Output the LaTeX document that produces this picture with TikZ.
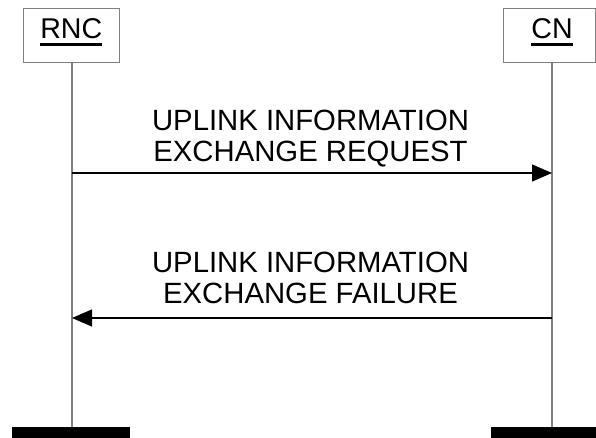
\documentclass[tikz,border=0pt]{standalone}
\usepackage{fontspec}
\setmainfont{Liberation Sans}
\usetikzlibrary{arrows.meta}
\newcommand{\myul}[1]{\setbox0\hbox{#1}\rlap{\rule[-6.7pt]{\wd0}{2.6pt}}\box0}
\tikzset{
  entity/.style={draw=gray, line width=1.3pt, rectangle, inner sep=0pt},
  lifeline/.style={draw=gray, line width=1.2pt},
  bar/.style={fill=black, draw=none},
  msg/.style={draw=black, line width=1.3pt, -{Triangle[length=20pt,width=17pt]}},
  lbl/.style={font=\fontsize{29.3}{31}\selectfont, align=center, anchor=base, inner sep=0pt},
  ename/.style={font=\fontsize{28.6}{31}\selectfont, anchor=base, inner sep=0pt}
}
\begin{document}
\begin{tikzpicture}[x=1pt,y=-1pt]
\useasboundingbox (0,0) rectangle (596,438);
% entity boxes
\node[entity, minimum width=96pt, minimum height=54.5pt] (rncbox) at (71.5,35.5) {};
\node[entity, minimum width=92pt, minimum height=54.5pt] (cnbox) at (549.3,35.5) {};
\node[ename] (rnc) at (71.3,39) {\myul{RNC}};
\node[ename] (cn) at (552,39) {\myul{CN}};
% bars
\path[bar] (12,427) rectangle (130,438);
\path[bar] (491,427) rectangle (596,438);
% lifeline coordinates
\coordinate (rtop) at (72,62.8);
\coordinate (rbot) at (72,427);
\coordinate (ctop) at (552,62.8);
\coordinate (cbot) at (552,427);
\draw[lifeline] (rtop) -- (rbot);
\draw[lifeline] (ctop) -- (cbot);
% messages
\coordinate (r1) at (72,173);
\coordinate (c1) at (552,173);
\coordinate (r2) at (72,318);
\coordinate (c2) at (552,318);
\draw[msg] (r1) -- (c1);
\draw[msg] (c2) -- (r2);
\node[lbl] (m1) at (310.5,162) {UPLINK INFORMATION\\EXCHANGE REQUEST};
\node[lbl] (m2) at (310.5,303) {UPLINK INFORMATION\\EXCHANGE FAILURE};
\end{tikzpicture}
\end{document}
